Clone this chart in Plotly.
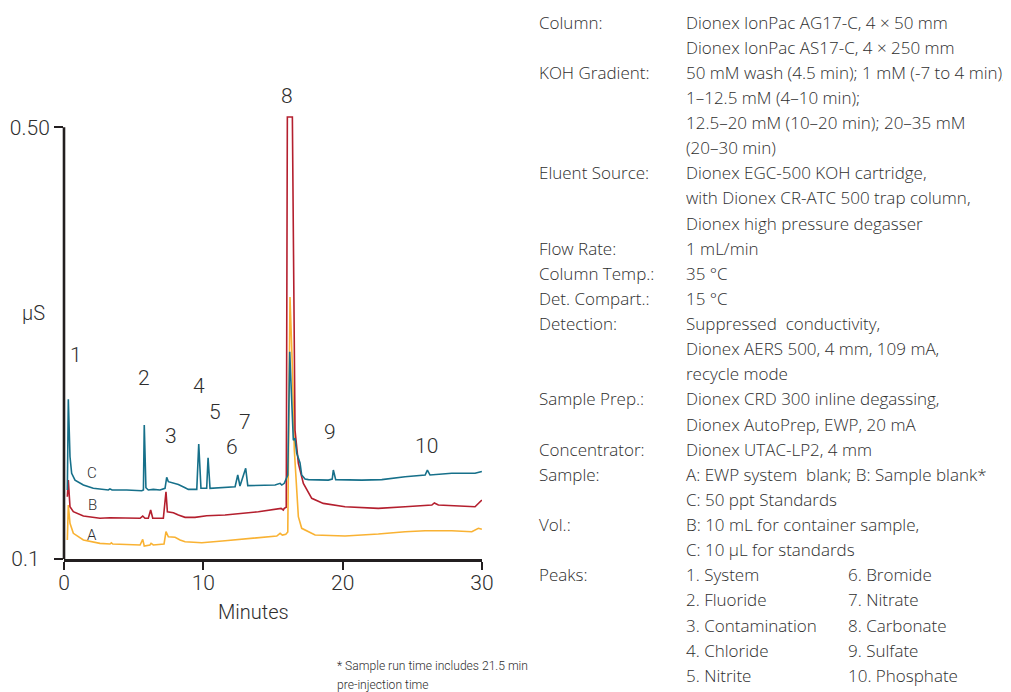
import plotly.graph_objects as go

# ---------------- data (minutes, µS) ----------------
c_time = [0.24, 0.31, 0.43, 0.55, 0.79, 1.39, 2.10, 3.18, 3.30, 3.45, 4.50, 5.58, 5.70, 5.76, 5.88,
          5.94, 6.05, 6.41, 6.89, 7.25, 7.37, 7.49, 7.85, 8.21, 8.69, 8.92, 9.53, 9.67, 9.83, 10.24,
          10.34, 10.48, 12.28, 12.47, 12.63, 13.04, 13.19, 15.15, 15.51, 15.63, 15.81, 16.06, 16.20,
          16.35, 16.46, 16.58, 16.70, 16.94, 17.06, 17.30, 17.54, 18.97, 19.25, 19.33, 19.50, 21.37,
          22.81, 24.48, 25.92, 26.08, 26.27, 27.83, 29.50, 29.99]
c_signal = [0.1639, 0.2479, 0.1947, 0.1794, 0.1731, 0.1685, 0.1655, 0.1639, 0.1650, 0.1639, 0.1639,
            0.1632, 0.1640, 0.2241, 0.1660, 0.1655, 0.1639, 0.1645, 0.1639, 0.1655, 0.1756, 0.1716,
            0.1706, 0.1690, 0.1660, 0.1645, 0.1645, 0.2065, 0.1655, 0.1655, 0.1938, 0.1655, 0.1669,
            0.1778, 0.1676, 0.1840, 0.1680, 0.1685, 0.1701, 0.1685, 0.1701, 0.1778, 0.2919, 0.2472,
            0.2100, 0.2118, 0.1981, 0.1889, 0.1778, 0.1740, 0.1735, 0.1731, 0.1740, 0.1824, 0.1735,
            0.1731, 0.1735, 0.1762, 0.1778, 0.1824, 0.1778, 0.1794, 0.1794, 0.1810]

b_time = [0.24, 0.31, 0.43, 0.67, 1.39, 2.58, 3.30, 4.50, 5.46, 5.65, 5.81, 6.05, 6.22, 6.37, 7.13,
          7.32, 7.42, 7.85, 8.21, 8.69, 9.40, 10.24, 11.56, 13.95, 15.38, 15.58, 15.74, 15.81, 15.95,
          16.03, 16.39, 16.58, 16.82, 17.18, 17.78, 18.61, 20.17, 22.56, 24.48, 26.40, 26.58, 26.87,
          29.50, 29.99]
b_signal = [0.1577, 0.1731, 0.1484, 0.1438, 0.1398, 0.1377, 0.1382, 0.1377, 0.1377, 0.1398, 0.1377,
            0.1377, 0.1454, 0.1377, 0.1377, 0.1623, 0.1438, 0.1429, 0.1407, 0.1386, 0.1386, 0.1401,
            0.1407, 0.1438, 0.1460, 0.1469, 0.1454, 0.1469, 0.1480, 0.5095, 0.5095, 0.2194, 0.1886,
            0.1701, 0.1562, 0.1515, 0.1484, 0.1469, 0.1484, 0.1500, 0.1519, 0.1500, 0.1484, 0.1546]

a_time = [0.24, 0.31, 0.43, 0.67, 1.39, 2.58, 3.30, 3.40, 3.50, 5.46, 5.65, 5.76, 6.17, 6.25, 6.41,
          7.18, 7.32, 7.49, 7.97, 8.33, 8.69, 9.40, 9.89, 11.56, 13.95, 15.27, 15.51, 15.67, 15.92,
          16.06, 16.22, 16.39, 16.53, 16.63, 16.82, 17.06, 17.54, 18.02, 20.17, 22.56, 24.48, 25.92,
          27.83, 29.27, 29.74, 29.99]
a_signal = [0.1176, 0.1500, 0.1331, 0.1238, 0.1176, 0.1145, 0.1139, 0.1150, 0.1139, 0.1130, 0.1182,
            0.1120, 0.1130, 0.1145, 0.1130, 0.1139, 0.1253, 0.1206, 0.1201, 0.1176, 0.1160, 0.1151,
            0.1151, 0.1169, 0.1201, 0.1213, 0.1238, 0.1222, 0.1230, 0.1250, 0.3426, 0.2781, 0.2009,
            0.1824, 0.1392, 0.1284, 0.1250, 0.1222, 0.1213, 0.1231, 0.1253, 0.1262, 0.1262, 0.1253,
            0.1284, 0.1275]

x_tick_vals = [0, 10, 20, 30]
x_tick_text = ["0", "10", "20", "30"]
y_tick_vals = [0.1, 0.5]
y_tick_text = ["0.1\u00a0\u00a0", "0.50"]

peak_numbers = ["1", "2", "3", "4", "5", "6", "7", "8", "9", "10"]
peak_label_x = [0.86, 5.74, 7.68, 9.69, 10.84, 12.06, 12.99, 16.01, 19.10, 26.0]
peak_label_y = [0.2889, 0.2676, 0.2139, 0.2602, 0.2361, 0.2037, 0.2269, 0.5287, 0.2176, 0.2046]

trace_names = ["C", "B", "A"]
trace_label_y = [0.1796, 0.150, 0.1222]

cond_labels = ["Column:", "", "KOH Gradient:", "", "", "", "Eluent Source:", "", "",
               "Flow Rate:", "Column Temp.:", "Det. Compart.:", "Detection:", "", "",
               "Sample Prep.:", "", "Concentrator:", "Sample:", "", "Vol.:", "",
               "Peaks:", "", "", "", ""]
cond_values = ["Dionex IonPac AG17-C, 4 \u00d7 50 mm",
               "Dionex IonPac AS17-C, 4 \u00d7 250 mm",
               "50 mM wash (4.5 min); 1 mM (-7 to 4 min),",
               "1\u201312.5 mM (4\u201310 min);",
               "12.5\u201320 mM (10\u201320 min); 20\u201335 mM",
               "(20\u201330 min)",
               "Dionex EGC-500 KOH cartridge,",
               "with Dionex CR-ATC 500 trap column,",
               "Dionex high pressure degasser",
               "1 mL/min",
               "35 \u00b0C",
               "15 \u00b0C",
               "Suppressed  conductivity,",
               "Dionex AERS 500, 4 mm, 109 mA,",
               "recycle mode",
               "Dionex CRD 300 inline degassing,",
               "Dionex AutoPrep, EWP, 20 mA",
               "Dionex UTAC-LP2, 4 mm",
               "A: EWP system  blank; B: Sample blank*",
               "C: 50 ppt Standards",
               "B: 10 mL for container sample,",
               "C: 10 \u00b5L for standards",
               "1. System", "2. Fluoride", "3. Contamination", "4. Chloride", "5. Nitrite"]
peaks_col2 = ["6. Bromide", "7. Nitrate", "8. Carbonate", "9. Sulfate", "10. Phosphate"]

footnote = ["* Sample run time includes 21.5 min", "pre-injection time"]

# ---------------- styling ----------------
OFF = 8                      # page body margin of the browser
W, H = 1011 - OFF, 692 - OFF
L, T = 64 - OFF, 111 - OFF   # plot area: x 64..482, y 111..559 (window pixels)
PW, PH = 418, 448
R, B = W - L - PW, H - T - PH
Y0, Y1 = 0.1, 0.515
FONT = "Roboto, sans-serif"
BLOCK_FONT = "Open Sans, Roboto, sans-serif"
TXT = "#2e2e2e"
AX = "#231f20"
TEAL, RED, ORANGE = "#16708a", "#b41f2e", "#f9b233"


def paper(px, py):
    """window pixel -> paper coordinates"""
    return (px - OFF - L) / PW, (H - B - (py - OFF)) / PH


def f(size, fam=FONT):
    return dict(size=size, color=TXT, family=fam, weight=300)


def note(x, y, text, font, xref="paper", xanchor="center"):
    return dict(x=x, y=y, xref=xref, yref="paper", text=text, showarrow=False,
                xanchor=xanchor, yanchor="middle", font=font)


fig = go.Figure()
for t, s, col in [(a_time, a_signal, ORANGE), (b_time, b_signal, RED), (c_time, c_signal, TEAL)]:
    fig.add_trace(go.Scatter(x=t, y=s, mode="lines", line=dict(color=col, width=1.6),
                             hoverinfo="skip", showlegend=False))

ann = []
for n, x, y in zip(peak_numbers, peak_label_x, peak_label_y):
    ann.append(note(x, (y - Y0) / (Y1 - Y0), n, f(21), xref="x"))
for n, y in zip(trace_names, trace_label_y):
    ann.append(note(2.01, (y - Y0) / (Y1 - Y0), n, f(15), xref="x"))

# unit label and axis title
ux, uy = paper(33, 313)
ann.append(note(ux, uy, "\u00b5S", f(20)))
mx, my = paper(253, 612)
ann.append(note(mx, my, "Minutes", f(20)))

# conditions text block
lx, _ = paper(537, 0)
vx, _ = paper(684, 0)
v2x, _ = paper(846, 0)
BS = 17
for i, (lab, val) in enumerate(zip(cond_labels, cond_values)):
    _, yy = paper(0, 22 + i * 25.13)
    if lab:
        ann.append(note(lx, yy, lab, f(BS, BLOCK_FONT), xanchor="left"))
    ann.append(note(vx, yy, val, f(BS, BLOCK_FONT), xanchor="left"))
for j, val in enumerate(peaks_col2):
    _, yy = paper(0, 22 + (22 + j) * 25.13)
    ann.append(note(v2x, yy, val, f(BS, BLOCK_FONT), xanchor="left"))

fx, _ = paper(335, 0)
for k, line in enumerate(footnote):
    _, yy = paper(0, 666 + k * 19)
    ann.append(note(fx, yy, line, f(12.1), xanchor="left"))

fig.update_layout(
    width=W, height=H,
    margin=dict(l=L, r=R, t=T, b=B, autoexpand=False),
    paper_bgcolor="white", plot_bgcolor="white",
    font=dict(family=FONT, color=TXT),
    annotations=ann,
    shapes=[dict(type="line", xref="paper", yref="y", x0=0, x1=0, y0=0.1, y1=0.5,
                 line=dict(color=AX, width=2.6))],
    xaxis=dict(range=[0, 30], showgrid=False, zeroline=False, showline=True, linecolor=AX,
               linewidth=2.6, ticks="outside", ticklen=8, tickwidth=2.4, tickcolor=AX,
               tickvals=x_tick_vals, ticktext=x_tick_text, tickfont=f(21),
               ticklabelstandoff=-5),
    yaxis=dict(range=[Y0, Y1], showgrid=False, zeroline=False, showline=False,
               ticks="outside", ticklen=9, tickwidth=2.4, tickcolor=AX,
               tickvals=y_tick_vals, ticktext=y_tick_text, tickfont=f(21)),
)

fig.write_html("out.html")
